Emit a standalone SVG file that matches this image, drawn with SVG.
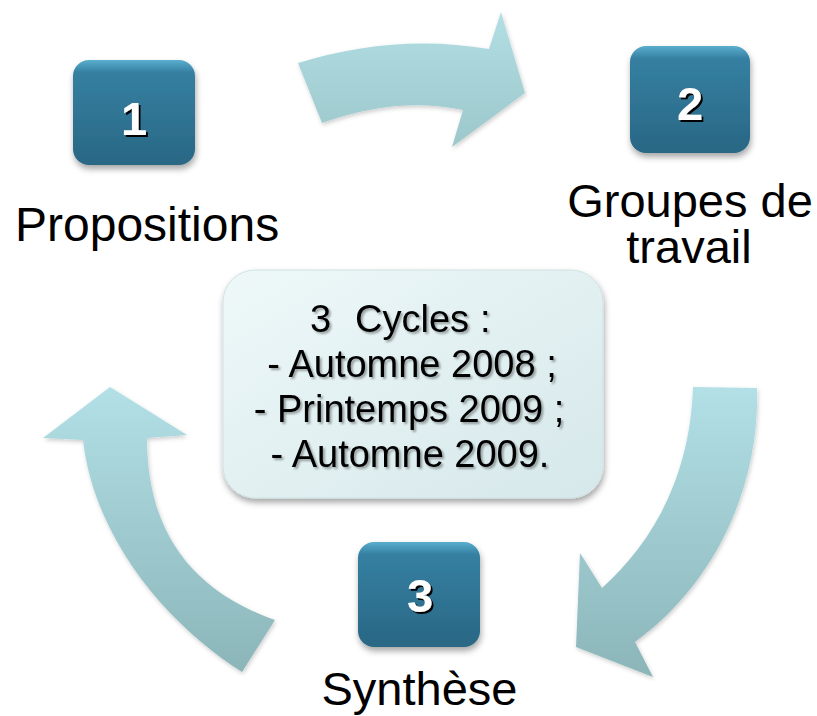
<svg xmlns="http://www.w3.org/2000/svg" width="817" height="716" viewBox="0 0 817 716">
<defs>
<linearGradient id="arrowGrad" x1="0" y1="0" x2="0" y2="1">
<stop offset="0" stop-color="#b2e0e6"/>
<stop offset="1" stop-color="#8bb5b9"/>
</linearGradient>
<linearGradient id="arrowGradTop" x1="0" y1="0" x2="0" y2="1">
<stop offset="0" stop-color="#b2dfe4"/>
<stop offset="1" stop-color="#9cc7cb"/>
</linearGradient>
<linearGradient id="boxGrad" x1="0" y1="0" x2="0" y2="1">
<stop offset="0" stop-color="#5aaece"/>
<stop offset="0.12" stop-color="#357fa1"/>
<stop offset="1" stop-color="#296784"/>
</linearGradient>
<linearGradient id="centerGrad" x1="0" y1="0" x2="1" y2="1">
<stop offset="0" stop-color="#eef8f9"/>
<stop offset="1" stop-color="#d6e8ea"/>
</linearGradient>
<filter id="shadow" x="-20%" y="-20%" width="140%" height="150%">
<feDropShadow dx="1" dy="4" stdDeviation="3" flood-color="#000" flood-opacity="0.35"/>
</filter>
<filter id="softShadow" x="-10%" y="-10%" width="120%" height="130%">
<feDropShadow dx="1" dy="2" stdDeviation="2" flood-color="#000" flood-opacity="0.2"/>
</filter>
<filter id="digitShadow" x="-20%" y="-20%" width="140%" height="140%">
<feDropShadow dx="2" dy="2" stdDeviation="0.4" flood-color="#000" flood-opacity="1"/>
</filter>
<filter id="textShadow" x="-5%" y="-20%" width="110%" height="140%">
<feDropShadow dx="2" dy="2" stdDeviation="0.8" flood-color="#000" flood-opacity="0.35"/>
</filter>
</defs>
<style>
.arrow { fill: url(#arrowGrad); filter: url(#softShadow); }
.box { fill: url(#boxGrad); filter: url(#shadow); }
.digit { font-family: "Liberation Sans", Arial, sans-serif; font-weight: bold; font-size: 47px; fill: #ffffff; text-anchor: middle; filter: url(#digitShadow); }
.label { font-family: "Liberation Sans", Arial, sans-serif; font-size: 47px; fill: #000000; }
.center { font-family: "Liberation Sans", Arial, sans-serif; font-size: 38px; fill: #000000; filter: url(#textShadow); }
</style>

<g id="connectors">
<path id="arrow-1-2" class="arrow" style="fill:url(#arrowGradTop)" d="M298,63 Q395,33 489,49 L501,12 L525,93 L452,147 L463,110 Q397,96 322,123 Z"/>
<path id="arrow-2-3" class="arrow" d="M693,387 L757,388 C760,480 720,580 635,642 L653,677 L576,647 L580,553 L602,588 C650,545 690,480 693,387 Z"/>
<path id="arrow-3-1" class="arrow" d="M110,387 L187,435 L147,438 C147,530 190,590 275,620 L242,672 C175,630 95,545 83,440 L43,438 Z"/>
</g>

<g id="node-center">
<rect x="223" y="270" width="380" height="228" rx="32" ry="32" fill="url(#centerGrad)" stroke="#d0e2e4" stroke-width="1" filter="url(#shadow)"/>
<text class="center" y="332"><tspan x="310">3</tspan><tspan x="355">Cycles</tspan><tspan x="480">:</tspan></text>
<text class="center" x="412" y="377" text-anchor="middle">- Automne 2008 ;</text>
<text class="center" x="409" y="422" text-anchor="middle">- Printemps 2009 ;</text>
<text class="center" x="410" y="467" text-anchor="middle">- Automne 2009.</text>
</g>

<g id="node-1">
<rect class="box" x="73" y="60" width="122" height="105" rx="16" ry="16"/>
<text class="digit" x="134" y="135">1</text>
<text class="label" x="15" y="241" style="font-size:48px">Propositions</text>
</g>

<g id="node-2">
<rect class="box" x="630" y="46" width="120" height="107" rx="16" ry="16"/>
<text class="digit" x="690" y="120">2</text>
<text class="label" x="690" y="217" text-anchor="middle">Groupes de</text>
<text class="label" x="689" y="263" text-anchor="middle">travail</text>
</g>

<g id="node-3">
<rect class="box" x="358" y="542" width="122" height="105" rx="16" ry="16"/>
<text class="digit" x="420" y="612">3</text>
<text class="label" x="419.5" y="705" text-anchor="middle">Synthèse</text>
</g>
</svg>
